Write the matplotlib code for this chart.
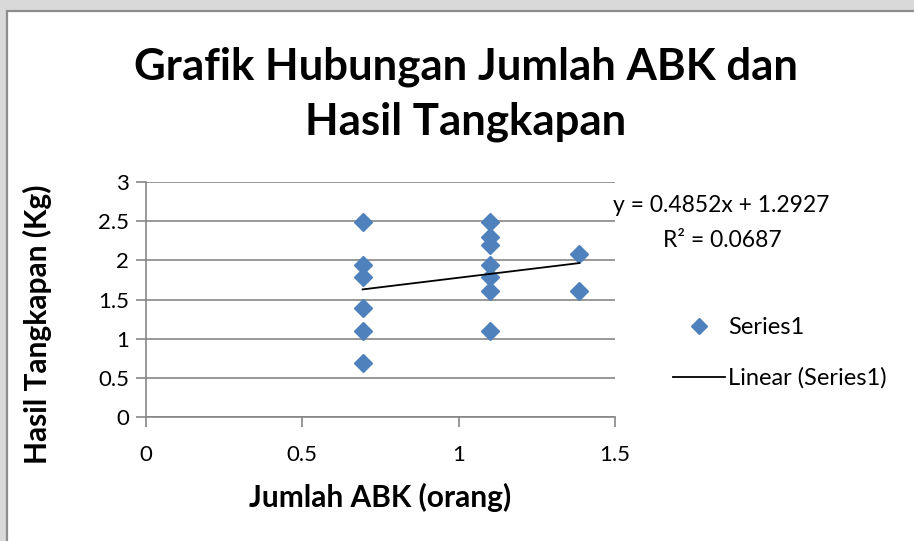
import matplotlib
matplotlib.use('Agg')
import matplotlib.pyplot as plt
from matplotlib.patches import Rectangle
from matplotlib.lines import Line2D

plt.rcParams['font.family'] = ['Lato', 'DejaVu Sans']

# Jumlah ABK (ln orang) and hasil tangkapan (ln kg)
abk = [0.693, 0.693, 0.693, 0.693, 0.693, 0.693,
       1.099, 1.099, 1.099, 1.099, 1.099, 1.099, 1.099,
       1.386, 1.386]
tangkapan = [2.485, 1.946, 1.792, 1.386, 1.099, 0.693,
             2.485, 2.303, 2.197, 1.946, 1.792, 1.609, 1.099,
             2.079, 1.609]

# Linear trendline from the regression
slope = 0.4852
intercept = 1.2927
r_squared = 0.0687

x_ticks = [0, 0.5, 1, 1.5]
x_tick_labels = ['0', '0.5', '1', '1.5']
y_ticks = [0, 0.5, 1, 1.5, 2, 2.5, 3]
y_tick_labels = ['0', '0.5', '1', '1.5', '2', '2.5', '3']

grey = '#868686'
blue = '#4F81BD'
W, H = 914, 541

fig = plt.figure(figsize=(9.14, 5.41), dpi=100)
fig.patch.set_facecolor('#d9d9d9')

# white chart area with grey border
fig.add_artist(Rectangle((7.5 / W, -0.05), 1.0, 1.05 - 11 / H,
                         transform=fig.transFigure, facecolor='white',
                         edgecolor='#8c8c8c', linewidth=1.6, zorder=0))

ax = fig.add_axes([146 / W, 1 - 417 / H, (615 - 146) / W, (417 - 182) / H])
ax.set_facecolor('none')

ax.plot(abk, tangkapan, linestyle='none', marker='D', markersize=9.5,
        color=blue, label='Series1', zorder=3)

x0, x1 = min(abk), max(abk)
ax.plot([x0, x1], [slope * x0 + intercept, slope * x1 + intercept],
        color='black', linewidth=1.3, label='Linear (Series1)', zorder=4)

ax.set_xlim(0, 1.5)
ax.set_ylim(0, 3)
ax.set_xticks(x_ticks)
ax.set_xticklabels(x_tick_labels)
ax.set_yticks(y_ticks)
ax.set_yticklabels(y_tick_labels)
ax.tick_params(axis='both', labelsize=16, colors=grey, labelcolor='black',
               length=7, width=1.2, direction='out')
ax.tick_params(axis='x', pad=13)
ax.tick_params(axis='y', pad=5)
ax.grid(axis='y', color=grey, linewidth=1.2)
ax.set_axisbelow(True)
for side in ['top', 'right']:
    ax.spines[side].set_visible(False)
for side in ['left', 'bottom']:
    ax.spines[side].set_color(grey)
    ax.spines[side].set_linewidth(1.2)

ax.set_xlabel('Jumlah ABK (orang)', fontsize=21.5, fontweight='bold')
ax.set_ylabel('Hasil Tangkapan (Kg)', fontsize=21.5, fontweight='bold')
ax.xaxis.set_label_coords((380 - 146) / (615 - 146), -(497 - 417) / (417 - 182))
ax.yaxis.set_label_coords(-(146 - 37) / (615 - 146), (417 - 324) / (417 - 182))
ax.xaxis.label.set_va('center')
ax.yaxis.label.set_va('center')

fig.text(466 / W, 1 - 67 / H, 'Grafik Hubungan Jumlah ABK dan', fontsize=31.5,
         fontweight='bold', ha='center', va='center')
fig.text(466 / W, 1 - 122 / H, 'Hasil Tangkapan', fontsize=31.5,
         fontweight='bold', ha='center', va='center')

fig.text(721 / W, 1 - 205 / H, 'y = %.4fx + %.4f' % (slope, intercept),
         fontsize=16.5, ha='center', va='center')
fig.text(722 / W, 1 - 240 / H, 'R² = %.4f' % r_squared,
         fontsize=16.5, ha='center', va='center')

handles = [Line2D([], [], linestyle='none', marker='D', markersize=8, color=blue),
           Line2D([], [], color='black', linewidth=1.3)]
fig.legend(handles, ['Series1', 'Linear (Series1)'], loc='upper left',
           bbox_to_anchor=(673 / W, 1 - 317 / H), frameon=False,
           borderpad=0, borderaxespad=0, fontsize=17, handlelength=2.2,
           handletextpad=0.15, labelspacing=1.25)

fig.savefig('out.png', dpi=100, facecolor=fig.get_facecolor())
